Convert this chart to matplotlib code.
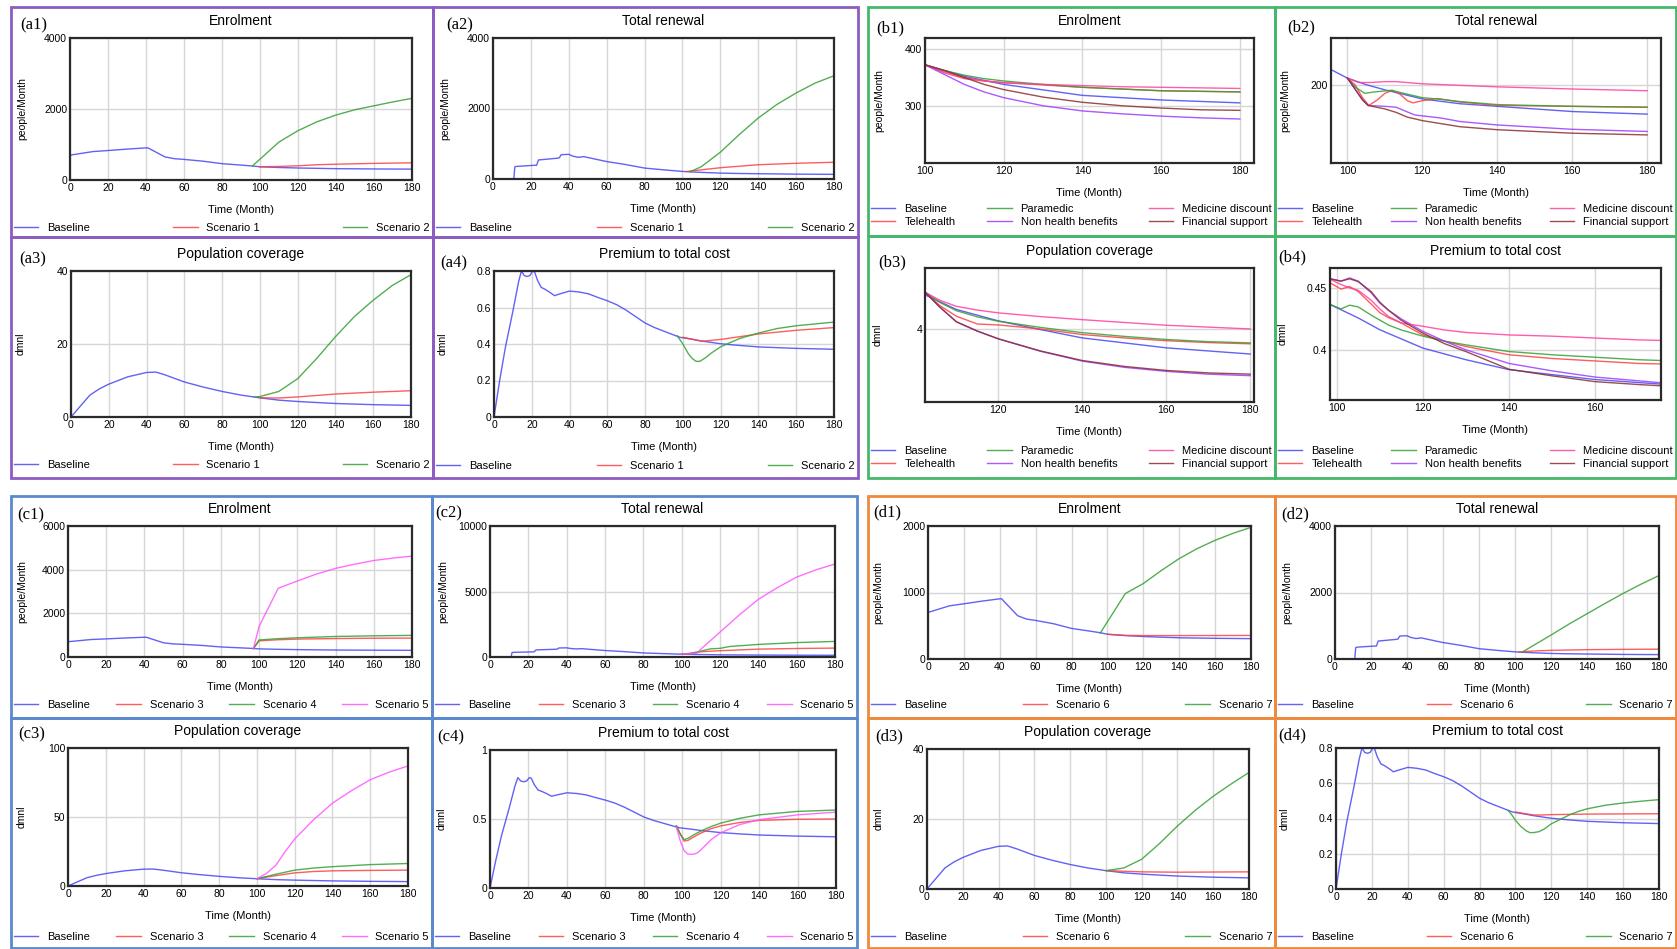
import matplotlib.pyplot as plt
from matplotlib.patches import Rectangle

plt.rcParams['font.family'] = ['Liberation Sans', 'DejaVu Sans']

# ---------------- baseline series (shared by all groups) ----------------
enrol_t = [0, 12, 20, 30, 40, 41, 50, 55, 60, 70, 80, 90, 96, 100, 110, 120, 140, 160, 180]
enrol_base = [700, 800, 830, 870, 905, 905, 650, 600, 580, 530, 460, 420, 395, 372, 352, 338, 319, 311, 306]

renew_t = [0, 11, 11.5, 12, 22, 23, 24, 30, 34, 35, 36, 40, 42, 45, 48, 50, 60, 70, 80, 90,
           96, 100, 105, 110, 120, 130, 140, 160, 180]
renew_base = [0, 0, 340, 355, 390, 390, 540, 570, 590, 600, 690, 700, 650, 615, 635, 610, 495, 410, 310, 260,
              233, 215, 200, 188, 167, 156, 150, 138, 132]

cov_t = [0, 5, 10, 15, 20, 30, 40, 45, 50, 60, 70, 80, 90, 100, 110, 120, 130, 140, 160, 180]
cov_base = [0, 3, 6, 7.7, 9, 11, 12.2, 12.3, 11.5, 9.6, 8.2, 7.0, 6.0, 5.25, 4.62, 4.25, 3.97, 3.7, 3.38, 3.18]

prem_t = [0, 3, 6, 10, 13, 14.5, 16, 17.5, 19, 20.5, 21.5, 23, 25, 27, 30, 32, 35, 40, 45, 50, 55, 60,
          65, 70, 75, 80, 85, 90, 95, 98.5, 105, 110, 120, 130, 140, 160, 175, 180]
prem_base = [0, 0.2, 0.38, 0.58, 0.74, 0.80, 0.775, 0.77, 0.775, 0.80, 0.795, 0.75, 0.71, 0.70, 0.68, 0.665,
             0.675, 0.69, 0.685, 0.675, 0.655, 0.637, 0.615, 0.585, 0.55, 0.515, 0.49, 0.47, 0.45, 0.4365,
             0.4257, 0.4162, 0.4014, 0.392, 0.384, 0.376, 0.3724, 0.371]

# ---------------- group a: scenarios 1 and 2 ----------------
a_enrol_s1_t = [100, 110, 120, 130, 140, 160, 180]
a_enrol_s1 = [372, 382, 400, 430, 445, 468, 485]
a_enrol_s2_t = [96, 110, 120, 130, 140, 150, 160, 170, 180]
a_enrol_s2 = [395, 1070, 1390, 1640, 1830, 1980, 2090, 2200, 2300]

a_renew_s1_t = [102, 110, 120, 140, 160, 180]
a_renew_s1 = [212, 260, 320, 405, 445, 475]
a_renew_s2_t = [104, 110, 120, 130, 140, 150, 160, 170, 180]
a_renew_s2 = [205, 350, 760, 1260, 1730, 2120, 2440, 2720, 2930]

a_cov_s1_t = [100, 110, 120, 140, 160, 180]
a_cov_s1 = [5.25, 5.2, 5.5, 6.3, 6.8, 7.2]
a_cov_s2_t = [97, 100, 110, 120, 130, 140, 150, 160, 170, 180]
a_cov_s2 = [5.5, 5.6, 7.0, 10.5, 16, 22, 27.5, 32, 36, 39]

a_prem_s1_t = [100, 105, 110, 120, 130, 140, 160, 180]
a_prem_s1 = [0.437, 0.426, 0.415, 0.425, 0.44, 0.455, 0.475, 0.49]
a_prem_s2_t = [97, 100, 103, 105, 107, 109, 112, 115, 120, 130, 140, 150, 160, 170, 180]
a_prem_s2 = [0.445, 0.40, 0.345, 0.32, 0.305, 0.305, 0.325, 0.35, 0.385, 0.43, 0.46, 0.485, 0.50, 0.51, 0.52]

# ---------------- group b: interventions (zoomed) ----------------
b_enrol_t = [100, 105, 110, 115, 120, 130, 140, 150, 160, 170, 180]
b_enrol_tele = [372, 358, 348, 344, 341, 337, 333, 330, 327, 326, 325]
b_enrol_para = [372, 362, 354, 348, 344, 338, 333, 330, 327, 326, 325]
b_enrol_medic = [372, 360, 350, 344, 341, 338, 336, 334, 333, 332, 331]
b_enrol_nonh = [372, 355, 338, 325, 315, 301, 292, 287, 283, 280, 278]
b_enrol_fin = [372, 362, 350, 338, 329, 316, 307, 301, 297, 294, 293]

b_renew_tele_t = [100, 102, 104, 105.7, 108, 110, 112, 114, 116, 117.5, 120, 124, 130, 140, 160, 180]
b_renew_tele = [215, 200, 170, 152, 165, 180, 187, 178, 163, 158, 163, 168, 160, 152, 150, 148]
b_renew_para_t = [100, 102, 104.6, 107, 111.7, 116, 120, 125, 130, 140, 160, 180]
b_renew_para = [215, 195, 180, 183, 187, 178, 170, 166, 161, 154, 150, 148]
b_renew_medic_t = [100, 103, 106, 110, 113, 120, 140, 160, 180]
b_renew_medic = [215, 205, 205, 207, 207, 202, 195, 190, 186]
b_renew_nonh_t = [100, 102, 104, 105.5, 110, 113, 116, 118, 125, 130, 140, 160, 180]
b_renew_nonh = [215, 190, 165, 152, 150, 148, 137, 130, 123, 115, 107, 97, 92]
b_renew_fin_t = [100, 102, 104, 105.5, 110, 113, 116, 120, 130, 140, 160, 180]
b_renew_fin = [215, 190, 165, 152, 144, 136, 125, 117, 103, 96, 88, 84]

b_cov_t = [102.5, 106, 110, 115, 120, 130, 140, 150, 160, 170, 180]
b_cov_tele = [5.18, 4.75, 4.40, 4.15, 4.12, 3.99, 3.81, 3.70, 3.61, 3.55, 3.51]
b_cov_para = [5.18, 4.85, 4.58, 4.38, 4.24, 4.04, 3.87, 3.75, 3.65, 3.58, 3.54]
b_cov_medic = [5.18, 4.92, 4.72, 4.60, 4.51, 4.39, 4.29, 4.20, 4.11, 4.05, 3.99]
b_cov_nonh = [5.18, 4.70, 4.22, 3.92, 3.67, 3.27, 2.95, 2.75, 2.62, 2.53, 2.48]
b_cov_fin = [5.18, 4.70, 4.22, 3.92, 3.67, 3.28, 2.97, 2.78, 2.65, 2.57, 2.53]

b_prem_t = [98.5, 101, 103, 105, 108, 110, 112, 115, 120, 125, 130, 140, 150, 160, 170, 175]
b_prem_tele = [0.454, 0.449, 0.451, 0.447, 0.437, 0.430, 0.426, 0.4216, 0.412, 0.407, 0.4027, 0.396, 0.393,
               0.391, 0.389, 0.3886]
b_prem_para = [0.4365, 0.433, 0.436, 0.4346, 0.428, 0.424, 0.420, 0.416, 0.411, 0.407, 0.404, 0.3986, 0.396,
               0.394, 0.392, 0.3914]
b_prem_medic = [0.4568, 0.4527, 0.450, 0.448, 0.440, 0.433, 0.427, 0.4216, 0.419, 0.416, 0.414, 0.412, 0.411,
                0.4095, 0.408, 0.4076]
b_prem_nonh = [0.4573, 0.4554, 0.458, 0.4554, 0.446, 0.4378, 0.432, 0.4249, 0.4149, 0.407, 0.400, 0.389, 0.383,
               0.378, 0.375, 0.3735]
b_prem_fin = [0.4573, 0.4554, 0.4573, 0.455, 0.447, 0.4385, 0.432, 0.4238, 0.4135, 0.405, 0.3986, 0.3843, 0.379,
              0.3743, 0.372, 0.371]

# ---------------- group c: scenarios 3, 4, 5 ----------------
c_enrol_t = [97, 100, 110, 120, 140, 160, 180]
c_enrol_s3 = [385, 740, 790, 820, 845, 860, 865]
c_enrol_s4 = [385, 780, 840, 880, 940, 970, 990]
c_enrol_s5_t = [97, 100, 110, 120, 130, 140, 150, 160, 170, 180]
c_enrol_s5 = [385, 1400, 3150, 3480, 3800, 4060, 4250, 4420, 4530, 4620]

c_renew_s3_t = [100, 105, 110, 120, 140, 160, 180]
c_renew_s3 = [215, 270, 400, 480, 600, 650, 680]
c_renew_s4_t = [100, 105, 110, 115, 120, 125, 140, 160, 180]
c_renew_s4 = [215, 290, 450, 620, 660, 800, 960, 1100, 1190]
c_renew_s5_t = [100, 108, 110, 120, 130, 140, 150, 160, 170, 180]
c_renew_s5 = [215, 300, 600, 1900, 3200, 4400, 5300, 6100, 6650, 7100]

c_cov_t = [100, 110, 120, 130, 140, 160, 180]
c_cov_s3 = [5.25, 7.5, 9.5, 10.5, 11.0, 11.3, 11.5]
c_cov_s4 = [5.25, 8.5, 11.5, 13, 14, 15.5, 16.3]
c_cov_s5_t = [100, 105, 110, 115, 120, 130, 140, 150, 160, 170, 180]
c_cov_s5 = [5.25, 9, 15, 25, 34, 48, 60, 69, 77, 82.5, 87]

c_prem_t = [97, 99, 101, 103, 106, 110, 115, 120, 130, 140, 160, 180]
c_prem_s3 = [0.45, 0.39, 0.34, 0.345, 0.37, 0.40, 0.43, 0.45, 0.475, 0.49, 0.498, 0.50]
c_prem_s4 = [0.45, 0.39, 0.35, 0.36, 0.385, 0.415, 0.445, 0.47, 0.505, 0.53, 0.555, 0.565]
c_prem_s5_t = [97, 99, 101, 103, 106, 108, 110, 115, 120, 130, 140, 160, 180]
c_prem_s5 = [0.44, 0.34, 0.27, 0.245, 0.245, 0.255, 0.28, 0.35, 0.40, 0.46, 0.495, 0.53, 0.55]

# ---------------- group d: scenarios 6 and 7 ----------------
d_enrol_s6_t = [100, 110, 120, 140, 160, 180]
d_enrol_s6 = [372, 355, 352, 352, 353, 354]
d_enrol_s7_t = [96, 110, 120, 130, 140, 150, 160, 170, 180]
d_enrol_s7 = [390, 985, 1135, 1330, 1510, 1660, 1785, 1890, 1980]

d_renew_s6_t = [102, 110, 120, 140, 160, 180]
d_renew_s6 = [212, 240, 260, 280, 290, 295]
d_renew_s7_t = [104, 110, 120, 130, 140, 150, 160, 170, 180]
d_renew_s7 = [205, 400, 720, 1050, 1360, 1670, 1970, 2250, 2510]

d_cov_s6_t = [100, 120, 140, 160, 180]
d_cov_s6 = [5.25, 4.9, 4.8, 4.85, 4.9]
d_cov_s7_t = [100, 110, 120, 130, 140, 150, 160, 170, 180]
d_cov_s7 = [5.25, 6, 8.5, 13, 18, 22.5, 26.5, 30, 33.3]

d_prem_s6_t = [100, 105, 110, 115, 120, 140, 160, 180]
d_prem_s6 = [0.437, 0.428, 0.42, 0.42, 0.422, 0.425, 0.426, 0.427]
d_prem_s7_t = [96, 98, 100, 103, 106, 108, 110, 113, 116, 120, 125, 130, 135, 140, 150, 160, 170, 180]
d_prem_s7 = [0.445, 0.42, 0.39, 0.355, 0.33, 0.32, 0.32, 0.325, 0.34, 0.37, 0.395, 0.42, 0.44, 0.455, 0.475,
             0.488, 0.498, 0.507]

# ---------------- colours ----------------
BLUE, RED, GREEN = '#4646f5', '#ff4040', '#35a035'
PINK, PURPLE, BROWN, MAGENTA = '#ff3f9f', '#9a3cff', '#8b2e2e', '#ff55ff'
C_A, C_B, C_C, C_D = '#8c5cc2', '#45b86a', '#5b89cf', '#ef8a3c'

W, H = 1677, 949
fig = plt.figure(figsize=(W / 100, H / 100), dpi=100)


def fx(x):
    return x / W


def fy(y):
    return 1 - y / H


def panel(tag, tag_xy, box, axbox, title, ylabel, ylab_x, edge, series, xlim, ylim, xticks, yticks,
          leg_top, ncol):
    l, t, r, b = axbox
    ax = fig.add_axes([fx(l), fy(b), (r - l) / W, (b - t) / H])
    lines = []
    for tt, yy, c, lab in series:
        ln, = ax.plot(tt, yy, color=c, lw=1.0, alpha=0.85, label=lab)
        lines.append(ln)
    ax.set_xlim(*xlim)
    ax.set_ylim(*ylim)
    ax.set_xticks(xticks)
    ax.set_yticks(yticks)
    ax.set_xticklabels([f'{v:g}' for v in xticks])
    ax.set_yticklabels([f'{v:g}' for v in yticks])
    ax.grid(True, color='#d6d6d6', lw=1.0)
    ax.set_axisbelow(True)
    ax.tick_params(length=0, labelsize=7.5, pad=2)
    for s in ax.spines.values():
        s.set_color('#2a2a2a')
        s.set_linewidth(1.6)
    h = b - t
    ax.set_title(title, fontsize=10, pad=0, y=1 + 17 / h, va='center')
    ax.set_xlabel('Time (Month)', fontsize=8)
    ax.xaxis.set_label_coords(0.5, -30 / h)
    ax.xaxis.label.set_va('center')
    ax.set_ylabel(ylabel, fontsize=7.5)
    ax.yaxis.set_label_coords((ylab_x - l) / (r - l), 0.5)
    ax.yaxis.label.set_va('center')
    fig.text(fx(tag_xy[0]), fy(tag_xy[1]), tag, family='Liberation Serif', fontsize=12,
             ha='left', va='center')
    bl, bt, br, bb = box
    fig.patches.append(Rectangle((fx(bl), fy(bb)), (br - bl) / W, (bb - bt) / H,
                                 transform=fig.transFigure, fill=False, ec=edge, lw=2))
    ax.legend(lines, [s[3] for s in series], loc='upper left',
              bbox_to_anchor=(fx(bl + 3), fy(leg_top), (br - bl - 6) / W, 0),
              bbox_transform=fig.transFigure, ncol=ncol, mode='expand', frameon=False, fontsize=8,
              handlelength=2.2, handletextpad=0.8, borderaxespad=0, borderpad=0,
              labelspacing=0.25, columnspacing=0)
    return ax


full_x = list(range(0, 181, 20))
PPM, DM = 'people/Month', 'dmnl'

# ---- group a ----
panel('(a1)', (20, 25), (11, 7, 433, 237), (70, 38, 412, 180), 'Enrolment', PPM, 22, C_A,
      [(enrol_t, enrol_base, BLUE, 'Baseline'), (a_enrol_s1_t, a_enrol_s1, RED, 'Scenario 1'),
       (a_enrol_s2_t, a_enrol_s2, GREEN, 'Scenario 2')],
      (0, 180), (0, 4000), full_x, [0, 2000, 4000], 223, 3)
panel('(a2)', (446, 25), (433, 7, 858, 237), (493, 38, 834, 179), 'Total renewal', PPM, 445, C_A,
      [(renew_t, renew_base, BLUE, 'Baseline'), (a_renew_s1_t, a_renew_s1, RED, 'Scenario 1'),
       (a_renew_s2_t, a_renew_s2, GREEN, 'Scenario 2')],
      (0, 180), (0, 4000), full_x, [0, 2000, 4000], 223, 3)
panel('(a3)', (19, 259), (11, 237, 433, 478), (71, 271, 411, 417), 'Population coverage', DM, 21, C_A,
      [(cov_t, cov_base, BLUE, 'Baseline'), (a_cov_s1_t, a_cov_s1, RED, 'Scenario 1'),
       (a_cov_s2_t, a_cov_s2, GREEN, 'Scenario 2')],
      (0, 180), (0, 40), full_x, [0, 20, 40], 460, 3)
panel('(a4)', (440, 263), (433, 237, 858, 478), (494, 271, 834, 417), 'Premium to total cost', DM, 443, C_A,
      [(prem_t, prem_base, BLUE, 'Baseline'), (a_prem_s1_t, a_prem_s1, RED, 'Scenario 1'),
       (a_prem_s2_t, a_prem_s2, GREEN, 'Scenario 2')],
      (0, 180), (0, 0.8), full_x, [0, 0.2, 0.4, 0.6, 0.8], 461, 3)

# ---- group b ----
b_labels = ['Baseline', 'Telehealth', 'Paramedic', 'Non health benefits', 'Medicine discount',
            'Financial support']
b_cols = [BLUE, RED, GREEN, PURPLE, PINK, BROWN]

panel('(b1)', (876, 28), (868, 7, 1275, 236), (925, 38, 1254, 163), 'Enrolment', PPM, 879, C_B,
      list(zip([enrol_t] + [b_enrol_t] * 5,
               [enrol_base, b_enrol_tele, b_enrol_para, b_enrol_nonh, b_enrol_medic, b_enrol_fin],
               b_cols, b_labels)),
      (100, 183.6), (201.7, 418.5), [100, 120, 140, 160, 180], [300, 400], 204, 3)
panel('(b2)', (1287, 27), (1275, 7, 1676, 236), (1331, 38, 1661, 163), 'Total renewal', PPM, 1285, C_B,
      list(zip([renew_t, b_renew_tele_t, b_renew_para_t, b_renew_nonh_t, b_renew_medic_t, b_renew_fin_t],
               [renew_base, b_renew_tele, b_renew_para, b_renew_nonh, b_renew_medic, b_renew_fin],
               b_cols, b_labels)),
      (95.6, 183.7), (19.2, 307.7), [100, 120, 140, 160, 180], [200], 204, 3)
panel('(b3)', (878, 262), (868, 236, 1275, 478), (925, 268, 1254, 402), 'Population coverage', DM, 878, C_B,
      list(zip([cov_t] + [b_cov_t] * 5,
               [cov_base, b_cov_tele, b_cov_para, b_cov_nonh, b_cov_medic, b_cov_fin],
               b_cols, b_labels)),
      (102.5, 180.9), (1.63, 5.96), [120, 140, 160, 180], [4], 446, 3)
panel('(b4)', (1278, 257), (1275, 236, 1676, 478), (1330, 268, 1661, 400), 'Premium to total cost', DM, 1283,
      C_B,
      list(zip([prem_t] + [b_prem_t] * 5,
               [prem_base, b_prem_tele, b_prem_para, b_prem_nonh, b_prem_medic, b_prem_fin],
               b_cols, b_labels)),
      (98.45, 175.3), (0.3595, 0.466), [100, 120, 140, 160], [0.4, 0.45], 446, 3)

# ---- group c ----
panel('(c1)', (17, 515), (11, 496, 432, 718), (68, 526, 412, 657), 'Enrolment', PPM, 22, C_C,
      [(enrol_t, enrol_base, BLUE, 'Baseline'), (c_enrol_t, c_enrol_s3, RED, 'Scenario 3'),
       (c_enrol_t, c_enrol_s4, GREEN, 'Scenario 4'), (c_enrol_s5_t, c_enrol_s5, MAGENTA, 'Scenario 5')],
      (0, 180), (0, 6000), full_x, [0, 2000, 4000, 6000], 700, 4)
panel('(c2)', (435, 513), (432, 496, 857, 718), (490, 526, 835, 657), 'Total renewal', PPM, 443, C_C,
      [(renew_t, renew_base, BLUE, 'Baseline'), (c_renew_s3_t, c_renew_s3, RED, 'Scenario 3'),
       (c_renew_s4_t, c_renew_s4, GREEN, 'Scenario 4'), (c_renew_s5_t, c_renew_s5, MAGENTA, 'Scenario 5')],
      (0, 180), (0, 10000), full_x, [0, 5000, 10000], 700, 4)
panel('(c3)', (18, 734), (11, 718, 432, 948), (68, 748, 408, 886), 'Population coverage', DM, 22, C_C,
      [(cov_t, cov_base, BLUE, 'Baseline'), (c_cov_t, c_cov_s3, RED, 'Scenario 3'),
       (c_cov_t, c_cov_s4, GREEN, 'Scenario 4'), (c_cov_s5_t, c_cov_s5, MAGENTA, 'Scenario 5')],
      (0, 180), (0, 100), full_x, [0, 50, 100], 932, 4)
panel('(c4)', (437, 737), (432, 718, 857, 948), (490, 750, 836, 888), 'Premium to total cost', DM, 442, C_C,
      [(prem_t, prem_base, BLUE, 'Baseline'), (c_prem_t, c_prem_s3, RED, 'Scenario 3'),
       (c_prem_t, c_prem_s4, GREEN, 'Scenario 4'), (c_prem_s5_t, c_prem_s5, MAGENTA, 'Scenario 5')],
      (0, 180), (0, 1), full_x, [0, 0.5, 1], 932, 4)

# ---- group d ----
panel('(d1)', (873, 512), (868, 496, 1275, 718), (928, 526, 1251, 659), 'Enrolment', PPM, 878, C_D,
      [(enrol_t, enrol_base, BLUE, 'Baseline'), (d_enrol_s6_t, d_enrol_s6, RED, 'Scenario 6'),
       (d_enrol_s7_t, d_enrol_s7, GREEN, 'Scenario 7')],
      (0, 180), (0, 2000), full_x, [0, 1000, 2000], 700, 3)
panel('(d2)', (1281, 514), (1275, 496, 1676, 718), (1335, 526, 1659, 659), 'Total renewal', PPM, 1287, C_D,
      [(renew_t, renew_base, BLUE, 'Baseline'), (d_renew_s6_t, d_renew_s6, RED, 'Scenario 6'),
       (d_renew_s7_t, d_renew_s7, GREEN, 'Scenario 7')],
      (0, 180), (0, 4000), full_x, [0, 2000, 4000], 700, 3)
panel('(d3)', (875, 736), (868, 718, 1275, 948), (927, 749, 1249, 889), 'Population coverage', DM, 879, C_D,
      [(cov_t, cov_base, BLUE, 'Baseline'), (d_cov_s6_t, d_cov_s6, RED, 'Scenario 6'),
       (d_cov_s7_t, d_cov_s7, GREEN, 'Scenario 7')],
      (0, 180), (0, 40), full_x, [0, 20, 40], 932, 3)
panel('(d4)', (1278, 735), (1275, 718, 1676, 948), (1336, 748, 1659, 889), 'Premium to total cost', DM, 1285,
      C_D,
      [(prem_t, prem_base, BLUE, 'Baseline'), (d_prem_s6_t, d_prem_s6, RED, 'Scenario 6'),
       (d_prem_s7_t, d_prem_s7, GREEN, 'Scenario 7')],
      (0, 180), (0, 0.8), full_x, [0, 0.2, 0.4, 0.6, 0.8], 932, 3)

fig.savefig('out.png', dpi=100)
